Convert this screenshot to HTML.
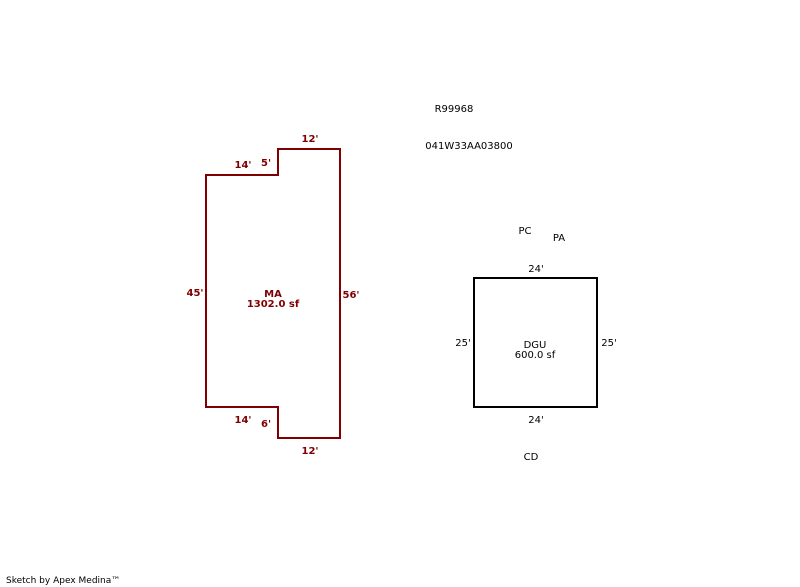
<!DOCTYPE html>
<html><head><style>body{margin:0;background:#fff}svg{display:block}</style></head>
<body>
<svg width="800" height="587" xmlns="http://www.w3.org/2000/svg" font-family="Verdana, 'DejaVu Sans', sans-serif" font-size="10">
<polygon points="206,175 278,175 278,149 340,149 340,438 278,438 278,407 206,407" fill="none" stroke="#800000" stroke-width="2"/>
<rect x="474" y="278" width="123" height="129" fill="none" stroke="#000" stroke-width="2"/>
<g fill="#800000" font-weight="bold" text-anchor="middle">
<text x="310" y="142">12'</text>
<text x="243" y="168">14'</text>
<text x="266" y="166">5'</text>
<text x="195" y="296">45'</text>
<text x="351" y="298">56'</text>
<text x="273" y="297">MA</text>
<text x="273" y="307">1302.0 sf</text>
<text x="243" y="423">14'</text>
<text x="266" y="427">6'</text>
<text x="310" y="454">12'</text>
</g>
<g fill="#000" text-anchor="middle">
<text x="454" y="112">R99968</text>
<text x="469" y="149">041W33AA03800</text>
<text x="525" y="234">PC</text>
<text x="559" y="241">PA</text>
<text x="536" y="272">24'</text>
<text x="463" y="346">25'</text>
<text x="609" y="346">25'</text>
<text x="535" y="348">DGU</text>
<text x="535" y="358">600.0 sf</text>
<text x="536" y="423">24'</text>
<text x="531" y="460">CD</text>
</g>
<text x="6" y="583" font-size="9" fill="#000">Sketch by Apex Medina™</text>
</svg>
</body></html>
